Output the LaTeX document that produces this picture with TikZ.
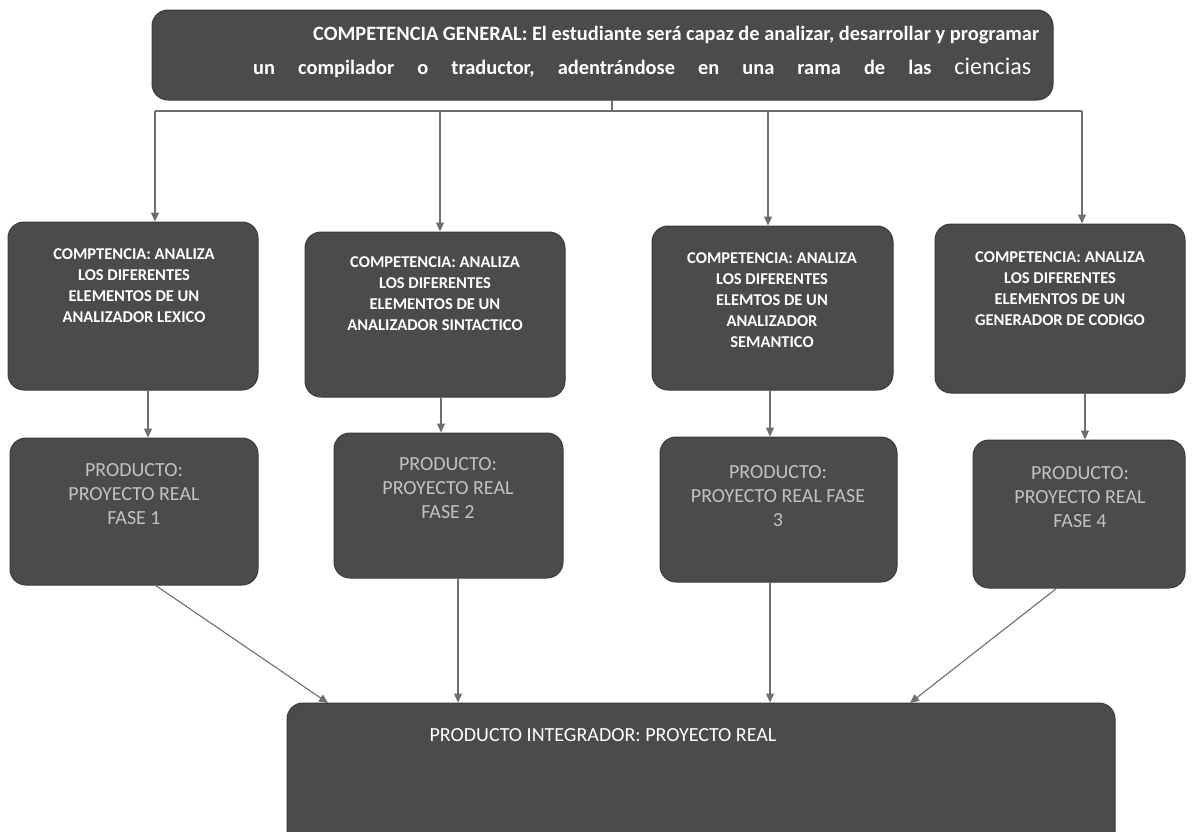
\documentclass[tikz,border=0pt]{standalone}
\usepackage{fontspec}
\setmainfont{Carlito}
\usetikzlibrary{arrows.meta,calc}
\definecolor{boxfill}{HTML}{4B4B4B}
\definecolor{boxedge}{HTML}{3A3A3A}
\definecolor{linec}{HTML}{6E6E6E}
\definecolor{prodtext}{HTML}{C2C2C2}
\tikzset{
  darkbox/.style={draw=boxedge, line width=1pt, fill=boxfill, rounded corners=16pt, inner sep=0pt},
  comptext/.style={text=white, font=\fontsize{16.5}{21}\selectfont\bfseries, align=center, inner sep=0pt, anchor=north},
  prodtxt/.style={text=prodtext, font=\fontsize{20}{24}\selectfont, align=center, inner sep=0pt, anchor=north},
  conn/.style={draw=linec, line width=1.1pt, -{Triangle[length=9pt,width=8pt]}},
  plainline/.style={draw=linec, line width=1.1pt}
}
\begin{document}
\begin{tikzpicture}[x=1pt,y=-1pt]
\useasboundingbox (0,0) rectangle (1196,831);
% boxes
\node[darkbox, minimum width=901pt, minimum height=90pt] (top) at (602.5,55) {};
\node[darkbox, minimum width=250pt, minimum height=168pt] (c1) at (133,306) {};
\node[darkbox, minimum width=260pt, minimum height=165pt] (c2) at (435,314.5) {};
\node[darkbox, minimum width=241pt, minimum height=164pt] (c3) at (772.5,308) {};
\node[darkbox, minimum width=250pt, minimum height=169pt] (c4) at (1060,308.5) {};
\node[darkbox, minimum width=248pt, minimum height=147pt] (p1) at (134,511.5) {};
\node[darkbox, minimum width=229pt, minimum height=145pt] (p2) at (448.5,505.5) {};
\node[darkbox, minimum width=237pt, minimum height=145pt] (p3) at (778.5,509.5) {};
\node[darkbox, minimum width=212pt, minimum height=148pt] (p4) at (1079,514) {};
\node[darkbox, minimum width=828pt, minimum height=150pt] (int) at (701,778) {};
% texts
\node[text=white, inner sep=0pt, anchor=base west, font=\fontsize{20.4}{24}\selectfont\bfseries] (t1) at (313,40) {COMPETENCIA GENERAL: El estudiante será capaz de analizar, desarrollar y programar};
\node[text=white, inner sep=0pt, anchor=base west, font=\fontsize{20.4}{24}\selectfont\bfseries] (t2) at (253,74) {\makebox[778pt][s]{un\hfill compilador\hfill o\hfill traductor,\hfill adentrándose\hfill en\hfill una\hfill rama\hfill de\hfill las\hfill {\mdseries\fontsize{24}{28}\selectfont ciencias}}};
\node[comptext] (ct1) at (134,248) {COMPTENCIA: ANALIZA\\LOS DIFERENTES\\ELEMENTOS DE UN\\ANALIZADOR LEXICO};
\node[comptext] (ct2) at (435,256) {COMPETENCIA: ANALIZA\\LOS DIFERENTES\\ELEMENTOS DE UN\\ANALIZADOR SINTACTICO};
\node[comptext] (ct3) at (772,252) {COMPETENCIA: ANALIZA\\LOS DIFERENTES\\ELEMTOS DE UN\\ANALIZADOR\\SEMANTICO};
\node[comptext] (ct4) at (1060,251) {COMPETENCIA: ANALIZA\\LOS DIFERENTES\\ELEMENTOS DE UN\\GENERADOR DE CODIGO};
\node[prodtxt] (pt1) at (134,463) {PRODUCTO:\\PROYECTO REAL\\FASE 1};
\node[prodtxt] (pt2) at (448,457) {PRODUCTO:\\PROYECTO REAL\\FASE 2};
\node[prodtxt] (pt3) at (778,465) {PRODUCTO:\\PROYECTO REAL FASE\\3};
\node[prodtxt] (pt4) at (1080,466) {PRODUCTO:\\PROYECTO REAL\\FASE 4};
\node[text=white, inner sep=0pt, anchor=base, font=\fontsize{20}{24}\selectfont] (it) at (603,741) {PRODUCTO INTEGRADOR: PROYECTO REAL};
% distribution lines
\coordinate (hub) at (612,111);
\coordinate (hl) at (155,111);
\coordinate (hr) at (1082,111);
\coordinate (a2) at (440,111);
\coordinate (a3) at (768,111);
\draw[plainline] (top.south -| hub) -- (hub);
\draw[plainline] (hl) -- (hr);
\draw[conn] (hl) -- (hl |- c1.north);
\draw[conn] (a2) -- (a2 |- c2.north);
\draw[conn] (a3) -- (a3 |- c3.north);
\draw[conn] (hr) -- (hr |- c4.north);
% competence to product
\coordinate (d1) at (148,0);
\coordinate (d2) at (441,0);
\coordinate (d3) at (770,0);
\coordinate (d4) at (1085,0);
\draw[conn] (c1.south -| d1) -- (p1.north -| d1);
\draw[conn] (c2.south -| d2) -- (p2.north -| d2);
\draw[conn] (c3.south -| d3) -- (p3.north -| d3);
\draw[conn] (c4.south -| d4) -- (p4.north -| d4);
% product to integrator
\coordinate (e1) at (155,585);
\coordinate (f1) at (328,703);
\coordinate (e2) at (458,0);
\coordinate (e3) at (770,0);
\coordinate (e4) at (1057,588);
\coordinate (f4) at (910,703);
\draw[conn] (e1) -- (f1);
\draw[conn] (p2.south -| e2) -- (int.north -| e2);
\draw[conn] (p3.south -| e3) -- (int.north -| e3);
\draw[conn] (e4) -- (f4);
\end{tikzpicture}
\end{document}
